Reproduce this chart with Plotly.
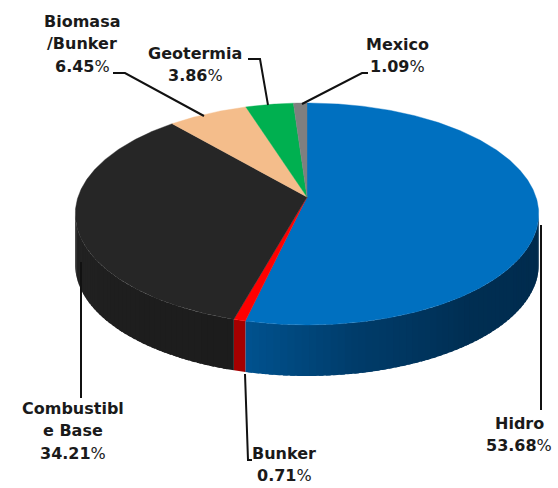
import numpy as np
import plotly.graph_objects as go

names = ["Hidro", "Bunker", "Combustible Base", "Biomasa /Bunker", "Geotermia", "Mexico"]
label_lines = [["Hidro"], ["Bunker"], ["Combustibl", "e Base"], ["Biomasa", "/Bunker"], ["Geotermia"], ["Mexico"]]
values = [53.68, 0.71, 34.21, 6.45, 3.86, 1.09]
top_colors = ["#0070c0", "#ff0000", "#262626", "#f4bd8b", "#00b050", "#7f7f7f"]
wall_stops = [
    [(0.0, "#002a4c"), (0.45, "#002e52"), (0.75, "#003c6a"), (1.0, "#00528f")],
    [(0.0, "#a50000"), (1.0, "#a50000")],
    [(0.0, "#1c1c1c"), (0.5, "#1e1e1e"), (1.0, "#242424")],
]
label_pos = [(519, 423), (284, 453), (73, 408), (82, 21), (195, 53), (397, 44)]
line_step = 22.5
leaders = [
    [(541, 225), (541, 410)],
    [(245, 374), (248, 460), (252, 460)],
    [(81, 262), (81, 398)],
    [(113, 73), (125, 73), (204, 116)],
    [(248, 59), (260, 59), (268, 105)],
    [(368, 73), (362, 73), (302, 104)],
]

X0, Y0, B, A, K, DEPTH = 307.0, 197.0, 229.0, 108.4, 0.153, 51.0


def project(theta_deg):
    t = np.radians(theta_deg)
    u, v = np.sin(t), np.cos(t)
    d = 1 + K * v
    return X0 + B * u / d, Y0 - A * v / d


def hex_rgb(c):
    return np.array([int(c[i:i + 2], 16) for i in (1, 3, 5)], dtype=float)


def stop_color(stops, f):
    pos = [s[0] for s in stops]
    rgb = np.array([hex_rgb(s[1]) for s in stops])
    r = [np.interp(f, pos, rgb[:, i]) for i in range(3)]
    return "rgb(%d,%d,%d)" % tuple(int(round(x)) for x in r)


fig = go.Figure()
edges = np.concatenate([[0], np.cumsum(values)]) * 3.6
vis_start = 90 + np.degrees(np.arcsin(K))
vis_end = 270 - np.degrees(np.arcsin(K))

# side wall: strips overlap the next one so no seams show
for i, stops in enumerate(wall_stops):
    a, b = max(edges[i], vis_start), min(edges[i + 1], vis_end)
    n = max(1, int((b - a) / 1.5))
    grid = np.linspace(a, b, n + 1)
    for j in range(n):
        th = np.linspace(grid[j], min(grid[j + 1] + 1.0, b), 5)
        x, y = project(th)
        px = np.concatenate([x, x[::-1]])
        py = np.concatenate([y, y[::-1] + DEPTH])
        col = stop_color(stops, (j + 0.5) / n)
        fig.add_trace(go.Scatter(x=px, y=py, mode="lines", fill="toself", fillcolor=col,
                                 line=dict(width=0), hoverinfo="skip", showlegend=False))

# top face
for i, c in enumerate(top_colors):
    th = np.linspace(edges[i], edges[i + 1], max(3, int(edges[i + 1] - edges[i]) * 2))
    x, y = project(th)
    fig.add_trace(go.Scatter(x=np.r_[X0, x, X0], y=np.r_[Y0, y, Y0], mode="lines", fill="toself",
                             fillcolor=c, line=dict(color=c, width=0.4), name=names[i],
                             hovertemplate=f"{names[i]}: {values[i]:.2f}%<extra></extra>", showlegend=False))

# leader lines
for pts in leaders:
    fig.add_trace(go.Scatter(x=[p[0] for p in pts], y=[p[1] for p in pts], mode="lines",
                             line=dict(color="#111111", width=2), hoverinfo="skip", showlegend=False))

annotations = []
for lines, v, (cx, cy) in zip(label_lines, values, label_pos):
    for k, s in enumerate(lines + [f"<b>{v:.2f}</b>%"]):
        txt = s if "<b>" in s else f"<b>{s}</b>"
        annotations.append(dict(x=cx, y=cy + k * line_step, text=txt, showarrow=False,
                                xanchor="center", yanchor="middle",
                                font=dict(family="DejaVu Sans", size=16, color="#1a1a1a")))

fig.update_layout(
    width=558, height=488, margin=dict(l=0, r=0, t=0, b=0),
    paper_bgcolor="white", plot_bgcolor="white", annotations=annotations,
    xaxis=dict(range=[0, 558], visible=False, fixedrange=True),
    yaxis=dict(range=[488, 0], visible=False, fixedrange=True),
)
fig.write_html("out.html", config={"displayModeBar": False},
               post_script="document.body.style.margin='0';")
